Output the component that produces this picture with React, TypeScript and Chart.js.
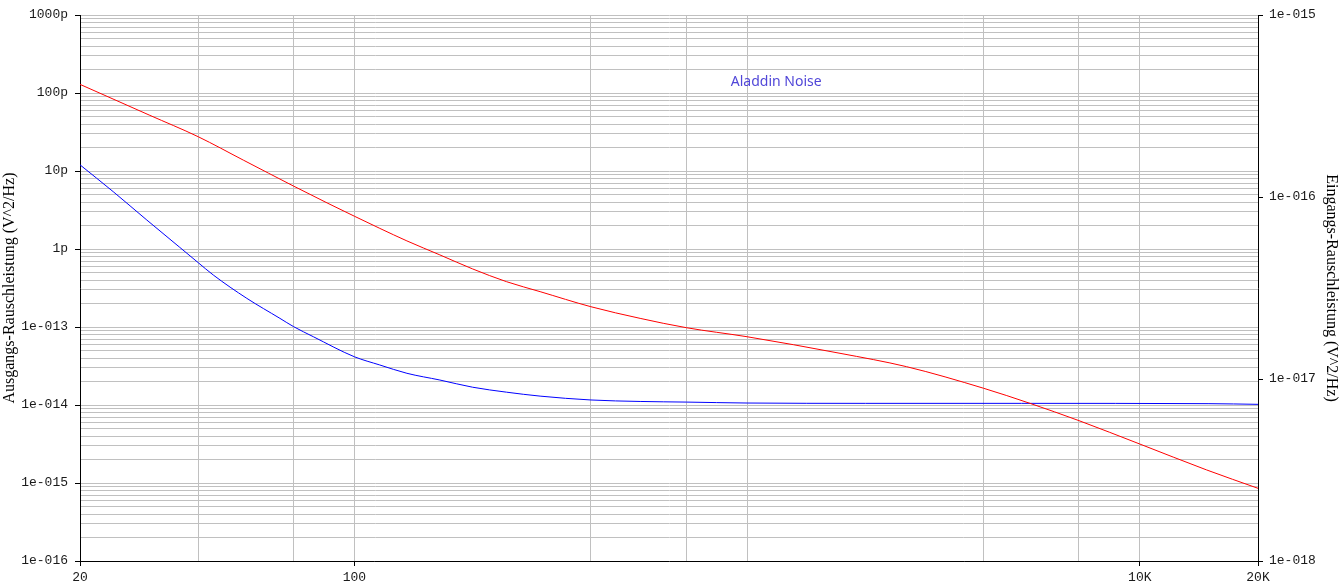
import React, { useEffect, useRef } from "react";
import { Chart, registerables } from "chart.js";

Chart.register(...registerables);

// Red curve: frequencies (Hz) and noise power (V^2/Hz)
const redFreqs = [20, 30, 40, 52.1, 70, 85.6, 100, 116, 136, 165, 200, 244, 297, 400, 534, 700, 1000, 1724, 2547, 4000, 5252, 7000, 10000, 14800, 20000];
const redNoise = [1.29e-10, 5.22e-11, 2.75e-11, 1.38e-11, 6.4e-12, 3.85e-12, 2.63e-12, 1.84e-12, 1.27e-12, 8.4e-13, 5.55e-13, 3.81e-13, 2.84e-13, 1.82e-13, 1.29e-13, 9.8e-14, 7.5e-14, 4.6e-14, 3.1e-14, 1.64e-14, 1.05e-14, 6.3e-15, 3.16e-15, 1.47e-15, 8.55e-16];

// Blue curve: frequencies (Hz) and noise power (V^2/Hz)
const blueFreqs = [20, 24.3, 29.6, 35.9, 40, 43.7, 53.2, 64.6, 70, 78.6, 100, 116, 136, 165, 200, 244, 297, 400, 534, 700, 1000, 2000, 5000, 15000, 20000];
const blueNoise = [1.2e-11, 5.43e-12, 2.35e-12, 1.05e-12, 6.68e-13, 4.64e-13, 2.33e-13, 1.29e-13, 1.01e-13, 7.5e-14, 4.15e-14, 3.26e-14, 2.55e-14, 2.09e-14, 1.69e-14, 1.46e-14, 1.3e-14, 1.16e-14, 1.11e-14, 1.09e-14, 1.06e-14, 1.05e-14, 1.05e-14, 1.04e-14, 1.02e-14];

// X axis ticks (grid) and labels
const xTicks = [20, 40, 70, 100, 400, 700, 1000, 4000, 7000, 10000, 20000];
const xLabeled = [20, 100, 10000, 20000];
const xLabelText = ["20", "100", "10K", "20K"];

// Left axis majors and labels
const leftMajors = [1e-9, 1e-10, 1e-11, 1e-12, 1e-13, 1e-14, 1e-15, 1e-16];
const leftLabels = ["1000p", "100p", "10p", "1p", "1e-013", "1e-014", "1e-015", "1e-016"];

// Right axis majors and labels
const rightMajors = [1e-15, 1e-16, 1e-17, 1e-18];
const rightLabels = ["1e-015", "1e-016", "1e-017", "1e-018"];

const TITLE = "Aladdin Noise";
const LEFT_TITLE = "Ausgangs-Rauschleistung (V^2/Hz)";
const RIGHT_TITLE = "Eingangs-Rauschleistung (V^2/Hz)";

const same = (a: number, b: number) => Math.abs(Math.log10(a) - Math.log10(b)) < 1e-6;
const findIdx = (arr: number[], v: number) => arr.findIndex((m) => same(m, v));

function leftTickValues(): number[] {
  const out: number[] = [];
  for (let e = -16; e <= -9; e++) {
    out.push(Math.pow(10, e));
    if (e < -9) {
      for (let k = 2; k <= 9; k++) out.push(k * Math.pow(10, e));
    }
  }
  return out;
}

const tickFont = { family: "'Liberation Mono', 'DejaVu Sans Mono', monospace", size: 13 };
const titleFont = { family: "'Liberation Serif', 'DejaVu Serif', serif", size: 16 };
const gridColor = "#c0c0c0";

const titlePlugin = {
  id: "innerTitle",
  afterDraw(chart: any) {
    const { ctx, chartArea } = chart;
    ctx.save();
    ctx.font = "14px 'Noto Sans', 'Open Sans', sans-serif";
    ctx.fillStyle = "#5046d8";
    ctx.textAlign = "center";
    ctx.textBaseline = "middle";
    const x = chartArea.left + (chartArea.right - chartArea.left) * 0.591;
    const y = chartArea.top + (chartArea.bottom - chartArea.top) * 0.123;
    ctx.fillText(TITLE, x, y);
    ctx.restore();
  },
};

export default function App() {
  const ref = useRef<HTMLCanvasElement | null>(null);
  useEffect(() => {
    if (!ref.current) return;
    const chart = new Chart(ref.current, {
      type: "scatter",
      data: {
        datasets: [
          {
            label: "red",
            data: redFreqs.map((f, i) => ({ x: f, y: redNoise[i] })),
            showLine: true,
            borderColor: "#ff0000",
            backgroundColor: "#ff0000",
            borderWidth: 1,
            pointRadius: 0,
            cubicInterpolationMode: "monotone",
            yAxisID: "y",
          },
          {
            label: "blue",
            data: blueFreqs.map((f, i) => ({ x: f, y: blueNoise[i] })),
            showLine: true,
            borderColor: "#0000ff",
            backgroundColor: "#0000ff",
            borderWidth: 1,
            pointRadius: 0,
            cubicInterpolationMode: "monotone",
            yAxisID: "y",
          },
        ],
      },
      options: {
        animation: false,
        responsive: false,
        devicePixelRatio: 1,
        layout: { padding: { top: 15, left: 0, right: 0, bottom: 0 } },
        plugins: {
          legend: { display: false },
          tooltip: { enabled: false },
          title: { display: false },
        },
        scales: {
          x: {
            type: "logarithmic",
            min: 20,
            max: 20000,
            afterBuildTicks: (s: any) => {
              s.ticks = xTicks.map((v) => ({ value: v }));
            },
            afterFit: (s: any) => {
              s.height = 26;
            },
            ticks: {
              autoSkip: false,
              maxRotation: 0,
              minRotation: 0,
              padding: 4,
              color: "#1a1a1a",
              font: tickFont,
              callback: (v: any) => {
                const i = findIdx(xLabeled, Number(v));
                return i >= 0 ? xLabelText[i] : "";
              },
            },
            grid: {
              color: gridColor,
              lineWidth: 1,
              tickLength: 5,
              tickColor: (c: any) => (c.tick && findIdx(xLabeled, c.tick.value) >= 0 ? "#000" : "rgba(0,0,0,0)"),
            },
            border: { display: true, color: "#000", width: 1 },
          },
          y: {
            type: "logarithmic",
            position: "left",
            min: 1e-16,
            max: 1e-9,
            afterBuildTicks: (s: any) => {
              s.ticks = leftTickValues().map((v) => ({ value: v }));
            },
            afterFit: (s: any) => {
              s.width = 80;
            },
            ticks: {
              autoSkip: false,
              padding: 7,
              color: "#1a1a1a",
              font: tickFont,
              callback: (v: any) => {
                const i = findIdx(leftMajors, Number(v));
                return i >= 0 ? leftLabels[i] : "";
              },
            },
            grid: {
              color: gridColor,
              lineWidth: 1,
              tickLength: 5,
              tickColor: (c: any) => (c.tick && findIdx(leftMajors, c.tick.value) >= 0 ? "#000" : "rgba(0,0,0,0)"),
            },
            border: { display: true, color: "#000", width: 1 },
            title: {
              display: true,
              text: LEFT_TITLE,
              color: "#000",
              font: titleFont,
              padding: { top: 0, bottom: 0 },
            },
          },
          y2: {
            type: "logarithmic",
            position: "right",
            min: 1e-18,
            max: 1e-15,
            afterBuildTicks: (s: any) => {
              s.ticks = rightMajors.map((v) => ({ value: v }));
            },
            afterFit: (s: any) => {
              s.width = 83;
            },
            ticks: {
              autoSkip: false,
              padding: 6,
              color: "#1a1a1a",
              font: tickFont,
              callback: (v: any) => {
                const i = findIdx(rightMajors, Number(v));
                return i >= 0 ? rightLabels[i] : "";
              },
            },
            grid: {
              drawOnChartArea: false,
              tickLength: 5,
              tickColor: "#000",
            },
            border: { display: true, color: "#000", width: 1 },
            title: {
              display: true,
              text: RIGHT_TITLE,
              color: "#000",
              font: titleFont,
              padding: { top: 0, bottom: 0 },
            },
          },
        },
      } as any,
      plugins: [titlePlugin],
    });
    return () => chart.destroy();
  }, []);

  return (
    <div style={{ position: "absolute", left: 0, top: 0, width: 1341, height: 587, background: "#fff" }}>
      <canvas ref={ref} width={1341} height={587} style={{ display: "block", width: 1341, height: 587 }} />
    </div>
  );
}
